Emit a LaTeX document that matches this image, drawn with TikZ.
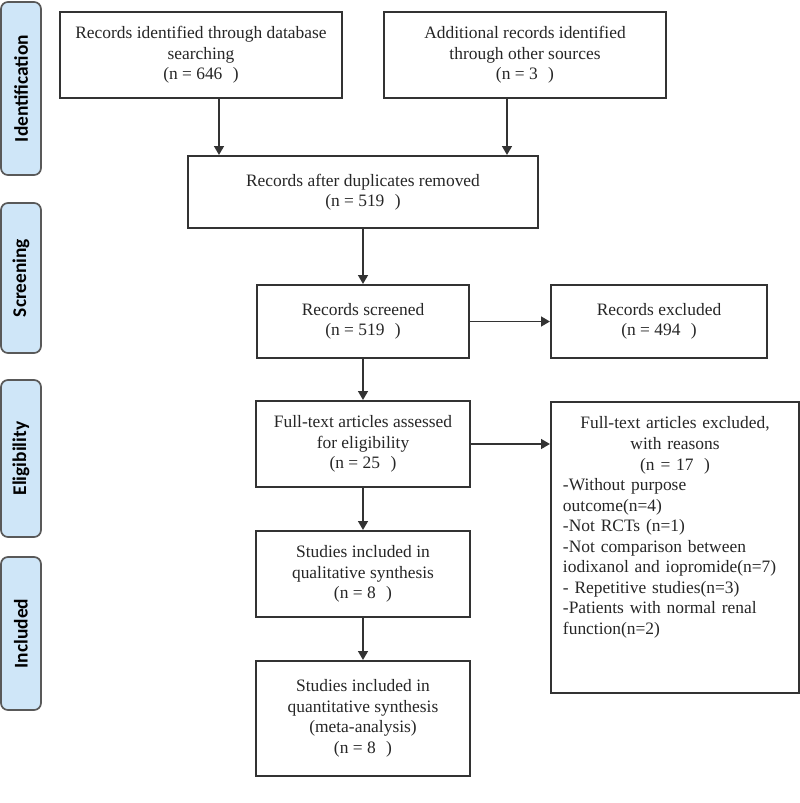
\documentclass[tikz,border=0pt]{standalone}
\usepackage{fontspec}
\setmainfont{Liberation Serif}
\newfontfamily\stagefont{Carlito}
\usetikzlibrary{arrows.meta}
\definecolor{stagefill}{RGB}{207,230,248}
\definecolor{linegray}{RGB}{51,51,51}

\begin{document}
\begin{tikzpicture}[x=0.025cm,y=-0.025cm,->,>={Triangle[length=2.2mm,width=2.4mm]},line width=1.4pt,draw=linegray]
    \tikzstyle{box}=[draw=linegray,rectangle,align=center,inner sep=0pt,text=black!85,font=\fontsize{12.4}{14.6}\selectfont]
    \tikzstyle{stage}=[draw=black!65,line width=1.2pt,fill=stagefill,rounded corners=5pt,rotate=90,minimum height=1cm,inner sep=0pt,font=\stagefont\bfseries\fontsize{13.8}{15}\selectfont]

    \useasboundingbox (0,0) rectangle (800,803);

    % Stage labels on the left
    \node[stage,minimum width=4.325cm] (ident) at (21,88.5) {Identification};
    \node[stage,minimum width=3.75cm] (scr) at (21,278) {Screening};
    \node[stage,minimum width=3.925cm] (elig) at (21,458.5) {Eligibility};
    \node[stage,minimum width=3.825cm] (incl) at (21,633.5) {Included};

    % Identification
    \node[box,minimum width=7.05cm,minimum height=2.15cm] (db) at (201,55) {Records identified through database\\ searching\\ (n = 646\hspace{0.6em})};
    \node[box,minimum width=7.05cm,minimum height=2.15cm] (other) at (525,55) {Additional records identified\\ through other sources\\ (n = 3\hspace{0.6em})};

    % Screening
    \node[box,minimum width=8.75cm,minimum height=1.8cm] (dup) at (363,192) {Records after duplicates removed\\ (n = 519\hspace{0.6em})};
    \node[box,minimum width=5.3cm,minimum height=1.825cm] (screen) at (363,321.5) {Records screened\\ (n = 519\hspace{0.6em})};
    \node[box,minimum width=5.4cm,minimum height=1.825cm] (excl) at (659,321.5) {Records excluded\\ (n = 494\hspace{0.6em})};

    % Eligibility
    \node[box,minimum width=5.35cm,minimum height=2.15cm] (full) at (363,444) {Full-text articles assessed\\ for eligibility\\ (n = 25\hspace{0.6em})};
    \node[box,align=left,anchor=north west,text width=5.6cm,inner xsep=0.3cm,inner ysep=0pt,text height=0.675cm,text depth=6.6cm] (ftexcl) at (550,401) {\centering Full-text articles excluded,\\ with reasons\\ (n = 17\hspace{0.6em})\par
        \raggedright -Without purpose\\ outcome(n=4)\\ -Not RCTs (n=1)\\ -Not comparison between\\ iodixanol and iopromide(n=7)\\ - Repetitive studies(n=3)\\ -Patients with normal renal\\ function(n=2)\par};

    % Included
    \node[box,minimum width=5.35cm,minimum height=2.15cm] (qual) at (363,574) {Studies included in\\ qualitative synthesis\\ (n = 8\hspace{0.6em})};
    \node[box,minimum width=5.35cm,minimum height=2.875cm] (quant) at (363,718.5) {Studies included in\\ quantitative synthesis\\ (meta-analysis)\\ (n = 8\hspace{0.6em})};

    % Connect the boxes
    \path ([xshift=0.45cm]db.south) edge ([xshift=0.45cm]db.south |- dup.north);
    \path ([xshift=-0.45cm]other.south) edge ([xshift=-0.45cm]other.south |- dup.north);
    \path (dup) edge (screen);
    \path (screen) edge (excl);
    \path (screen) edge (full);
    \path (full.east) edge (full.east -| ftexcl.west);
    \path (full) edge (qual);
    \path (qual) edge (quant);
\end{tikzpicture}
\end{document}
